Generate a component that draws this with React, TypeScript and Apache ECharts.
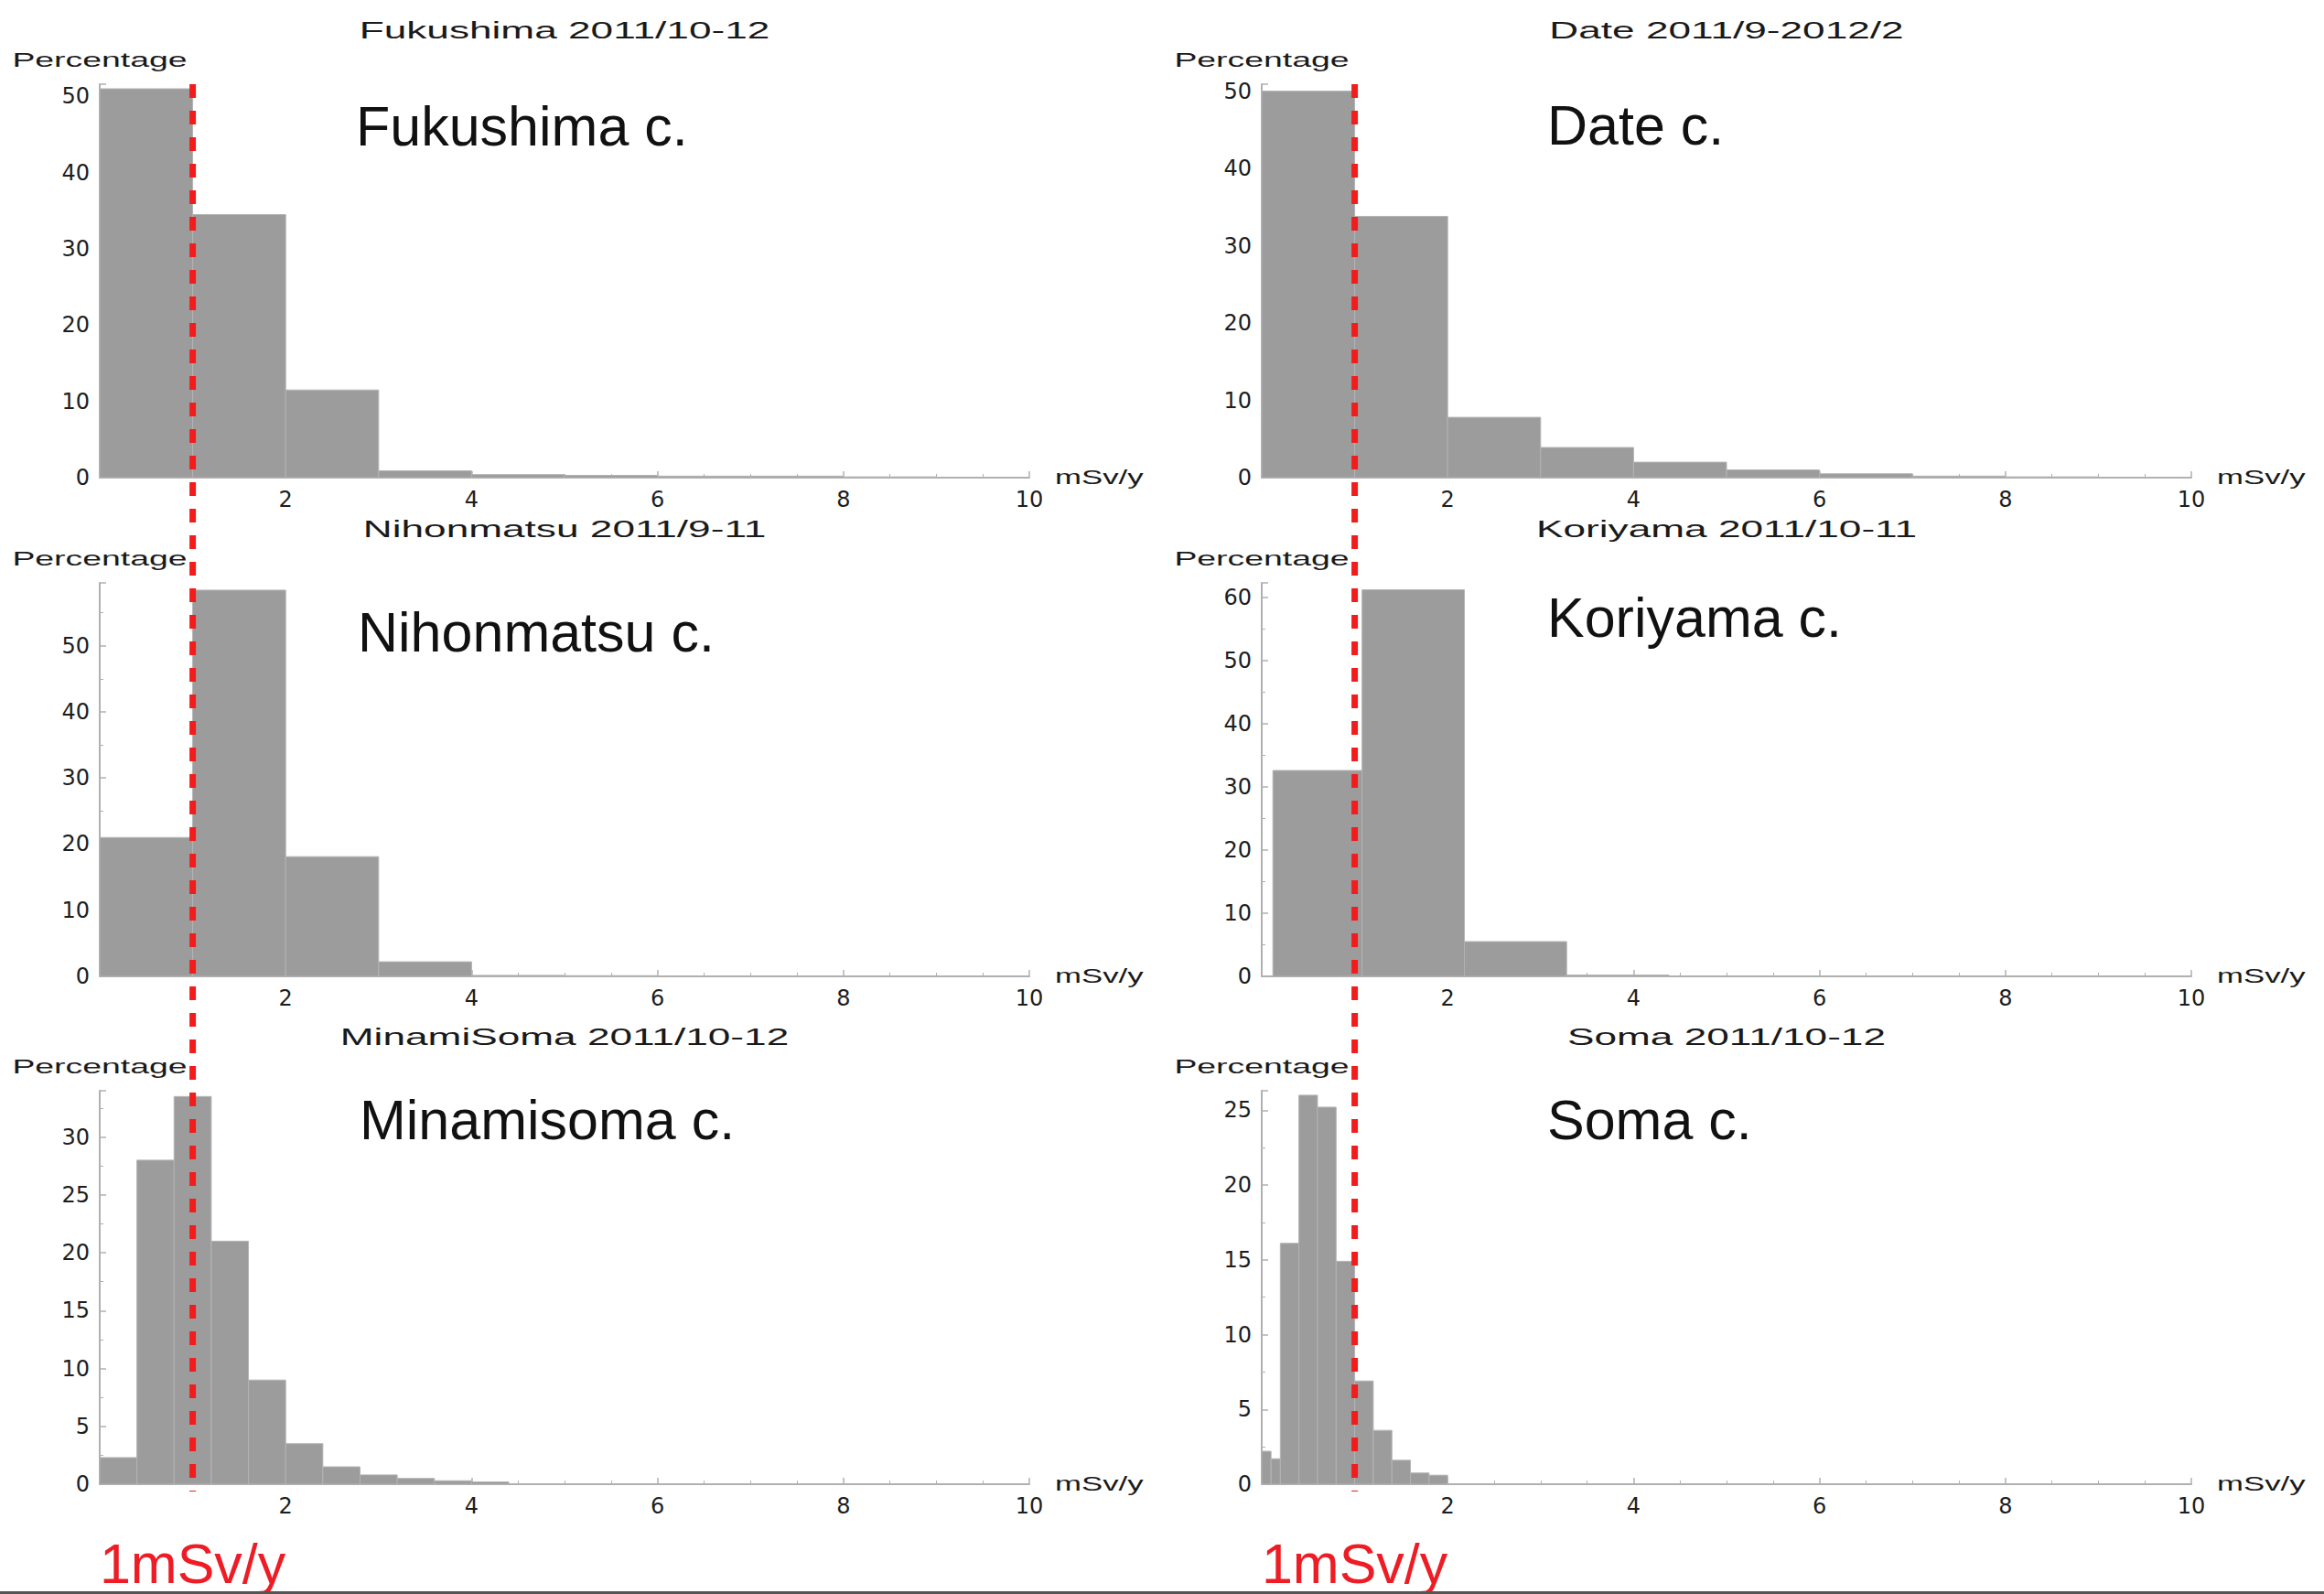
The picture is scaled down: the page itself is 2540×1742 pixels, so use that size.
import React, { useEffect, useRef } from "react";
import * as echarts from "echarts";

const W = 2540;
const H = 1742;

// ---------- data ----------
const panelTitles = [
  "Fukushima 2011/10-12",
  "Date 2011/9-2012/2",
  "Nihonmatsu 2011/9-11",
  "Koriyama 2011/10-11",
  "MinamiSoma 2011/10-12",
  "Soma 2011/10-12",
];
const cityLabels = ["Fukushima c.", "Date c.", "Nihonmatsu c.", "Koriyama c.", "Minamisoma c.", "Soma c."];

const fukushimaBinStart = [0, 1, 2, 3, 4, 5, 6, 7, 8];
const fukushimaBinEnd = [1, 2, 3, 4, 5, 6, 7, 8, 9];
const fukushimaPct = [51.0, 34.5, 11.5, 0.9, 0.4, 0.3, 0.2, 0.2, 0.1];

const dateBinStart = [0, 1, 2, 3, 4, 5, 6, 7, 8, 9];
const dateBinEnd = [1, 2, 3, 4, 5, 6, 7, 8, 9, 10];
const datePct = [50.0, 33.8, 7.8, 3.9, 2.0, 1.0, 0.5, 0.2, 0.1, 0.05];

const nihonmatsuBinStart = [0, 1, 2, 3, 4, 5];
const nihonmatsuBinEnd = [1, 2, 3, 4, 5, 6];
const nihonmatsuPct = [21.0, 58.4, 18.1, 2.2, 0.15, 0.1];

const koriyamaBinStart = [0.12, 1.08, 2.18, 3.28];
const koriyamaBinEnd = [1.08, 2.18, 3.28, 4.38];
const koriyamaPct = [32.6, 61.2, 5.5, 0.2];

const minamisomaBinStart = [0, 0.4, 0.8, 1.2, 1.6, 2.0, 2.4, 2.8, 3.2, 3.6, 4.0];
const minamisomaBinEnd = [0.4, 0.8, 1.2, 1.6, 2.0, 2.4, 2.8, 3.2, 3.6, 4.0, 4.4];
const minamisomaPct = [2.3, 28.0, 33.5, 21.0, 9.0, 3.5, 1.5, 0.8, 0.5, 0.3, 0.2];

const somaBinStart = [0, 0.1, 0.2, 0.4, 0.6, 0.8, 1.0, 1.2, 1.4, 1.6, 1.8];
const somaBinEnd = [0.1, 0.2, 0.4, 0.6, 0.8, 1.0, 1.2, 1.4, 1.6, 1.8, 2.0];
const somaPct = [2.2, 1.7, 16.1, 26.0, 25.2, 14.9, 6.9, 3.6, 1.6, 0.75, 0.6];

const yMaxes = [51.6, 50.9, 59.5, 62.3, 34.0, 26.3];
const yIntervals = [10, 10, 10, 10, 5, 5];
const xTicks = { min: 0, max: 10, interval: 2 };
const thresholdMSv = 1;
const thresholdLabel = "1mSv/y";
const yAxisName = "Percentage";
const xAxisName = "mSv/y";

const binStarts = [fukushimaBinStart, dateBinStart, nihonmatsuBinStart, koriyamaBinStart, minamisomaBinStart, somaBinStart];
const binEnds = [fukushimaBinEnd, dateBinEnd, nihonmatsuBinEnd, koriyamaBinEnd, minamisomaBinEnd, somaBinEnd];
const binPcts = [fukushimaPct, datePct, nihonmatsuPct, koriyamaPct, minamisomaPct, somaPct];

// ---------- layout ----------
const colLeft = [109, 1379];
const plotW = 1016;
const rowBottom = [522, 1067, 1622];
const plotH = 430;
const overlayTop = 92;
const overlayBottom = 1630;
// big city label: offset from plot left, cap-centre y
const cityLabelPos = [
  [280, 138],
  [312, 137],
  [282, 691],
  [312, 675],
  [284, 1224],
  [312, 1224],
];

const SMALL_SCALE = 1.7;
const BAR_FILL = "#9c9c9c";
const BAR_EDGE = "#b3b3b3";
const AXIS_COLOR = "#b0b0b0";
const RED = "#f21c1c";
const SANS = "'Liberation Sans', Arial, Helvetica, sans-serif";
const TICK_FONT = "'DejaVu Sans', sans-serif";

function buildOption() {
  const grid: any[] = [];
  const xAxis: any[] = [];
  const yAxis: any[] = [];
  const series: any[] = [];
  const graphic: any[] = [];

  for (let i = 0; i < 6; i++) {
    const col = i % 2;
    const row = Math.floor(i / 2);
    const left = colLeft[col];
    const bottom = rowBottom[row];
    grid.push({ left, top: bottom - plotH, width: plotW, height: plotH });
    xAxis.push({
      type: "value",
      gridIndex: i,
      min: xTicks.min,
      max: xTicks.max,
      interval: xTicks.interval,
      axisLine: { show: true, lineStyle: { color: AXIS_COLOR, width: 2 } },
      axisTick: { show: true, inside: true, length: 7, lineStyle: { color: AXIS_COLOR, width: 1.5 } },
      minorTick: { show: true, splitNumber: 4, length: 4, lineStyle: { color: AXIS_COLOR, width: 1 } },
      splitLine: { show: false },
      axisLabel: {
        show: true,
        showMinLabel: false,
        margin: 12,
        fontSize: 24,
        fontFamily: TICK_FONT,
        color: "#1e1e1e",
      },
    });
    const itv = yIntervals[i];
    yAxis.push({
      type: "value",
      gridIndex: i,
      min: 0,
      max: yMaxes[i],
      interval: itv,
      axisLine: { show: true, lineStyle: { color: AXIS_COLOR, width: 2 } },
      axisTick: { show: true, inside: true, length: 7, lineStyle: { color: AXIS_COLOR, width: 1.5 } },
      minorTick: { show: true, splitNumber: 2, length: 4, lineStyle: { color: AXIS_COLOR, width: 1 } },
      splitLine: { show: false },
      axisLabel: {
        show: true,
        margin: 11,
        fontSize: 24,
        fontFamily: TICK_FONT,
        color: "#1e1e1e",
        formatter: (v: number) => (Math.abs(v / itv - Math.round(v / itv)) < 1e-6 ? String(Math.round(v)) : ""),
      },
    });
    const data = binStarts[i].map((s, k) => [s, binEnds[i][k], binPcts[i][k]]);
    series.push({
      type: "custom",
      name: panelTitles[i],
      xAxisIndex: i,
      yAxisIndex: i,
      silent: true,
      encode: { x: [0, 1], y: 2 },
      data,
      renderItem: (params: any, api: any) => {
        const p0 = api.coord([api.value(0), 0]);
        const p1 = api.coord([api.value(1), api.value(2)]);
        return {
          type: "rect",
          shape: { x: p0[0], y: p1[1], width: p1[0] - p0[0], height: p0[1] - p1[1] },
          style: { fill: BAR_FILL, stroke: BAR_EDGE, lineWidth: 1 },
        };
      },
      z: 2,
    });

    // panel title (stretched like original)
    graphic.push({
      type: "text",
      x: left + plotW / 2,
      y: bottom - 489,
      scaleX: SMALL_SCALE,
      style: {
        text: panelTitles[i],
        font: `26px ${SANS}`,
        fill: "#1a1a1a",
        textAlign: "center",
        textVerticalAlign: "middle",
      },
    });
    graphic.push({
      type: "text",
      x: left,
      y: bottom - 457,
      scaleX: SMALL_SCALE,
      style: {
        text: yAxisName,
        font: `22px ${SANS}`,
        fill: "#1a1a1a",
        textAlign: "center",
        textVerticalAlign: "middle",
      },
    });
    graphic.push({
      type: "text",
      x: left + 1044,
      y: bottom - 1,
      scaleX: SMALL_SCALE * 0.93,
      style: {
        text: xAxisName,
        font: `22px ${SANS}`,
        fill: "#1a1a1a",
        textAlign: "left",
        textVerticalAlign: "middle",
      },
    });
    graphic.push({
      type: "text",
      x: left + cityLabelPos[i][0],
      y: cityLabelPos[i][1],
      z: 30,
      style: {
        text: cityLabels[i],
        font: `61px ${SANS}`,
        fill: "#111111",
        textAlign: "left",
        textVerticalAlign: "middle",
      },
    });
  }

  // overlay grids for the continuous 1 mSv/y dashed line
  for (let c = 0; c < 2; c++) {
    const gi = grid.length;
    grid.push({ left: colLeft[c], top: overlayTop, width: plotW, height: overlayBottom - overlayTop });
    xAxis.push({ type: "value", gridIndex: gi, min: xTicks.min, max: xTicks.max, show: false });
    yAxis.push({ type: "value", gridIndex: gi, min: 0, max: 1, show: false });
    series.push({
      type: "line",
      xAxisIndex: gi,
      yAxisIndex: gi,
      silent: true,
      symbol: "none",
      data: [
        [thresholdMSv, 1],
        [thresholdMSv, 0],
      ],
      lineStyle: { color: RED, width: 7, type: [15, 14] },
      z: 20,
    });
    graphic.push({
      type: "text",
      x: colLeft[c] + (plotW * (thresholdMSv - xTicks.min)) / (xTicks.max - xTicks.min),
      y: 1709,
      style: {
        text: thresholdLabel,
        font: `61px ${SANS}`,
        fill: "#ee1c25",
        textAlign: "center",
        textVerticalAlign: "middle",
      },
    });
  }

  graphic.push({
    type: "rect",
    shape: { x: 0, y: 1739, width: W, height: 3 },
    style: { fill: "#555555" },
  });

  return {
    animation: false,
    backgroundColor: "#ffffff",
    grid,
    xAxis,
    yAxis,
    series,
    graphic,
  };
}

export default function App() {
  const ref = useRef<HTMLDivElement>(null);
  useEffect(() => {
    if (!ref.current) return;
    const chart = echarts.init(ref.current, null, { renderer: "svg", width: W, height: H });
    chart.setOption(buildOption() as any);
    return () => chart.dispose();
  }, []);
  return (
    <div
      ref={ref}
      style={{ position: "fixed", left: 0, top: 0, width: W, height: H, background: "#ffffff" }}
    />
  );
}
